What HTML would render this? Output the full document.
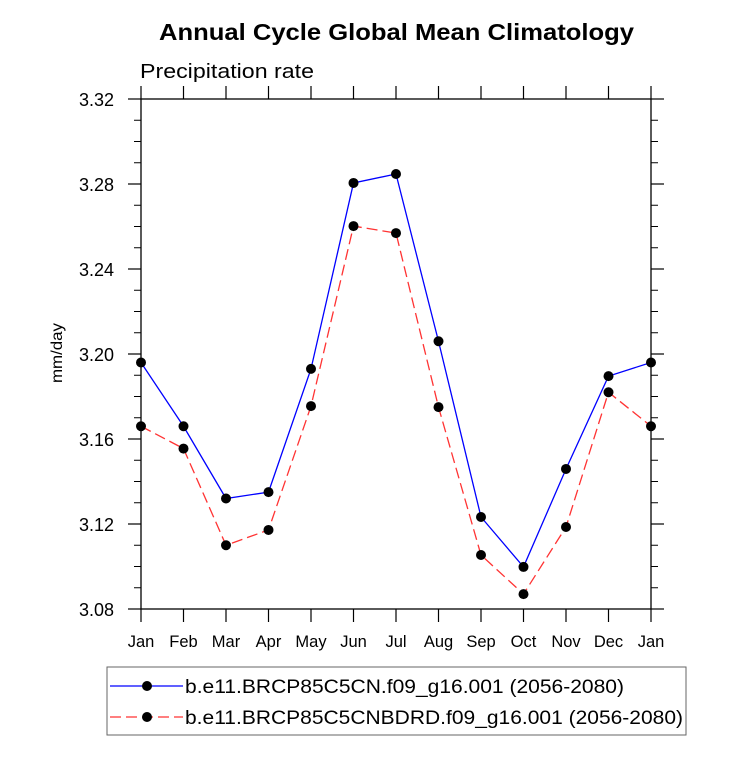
<!DOCTYPE html>
<html><head><meta charset="utf-8"><style>
body{margin:0;background:#fff;}
svg text{font-family:"Liberation Sans",Arial,sans-serif;}
</style></head><body>
<svg id="chart" width="733" height="756" xmlns="http://www.w3.org/2000/svg">
<text x="159" y="40" font-size="23" font-weight="bold" textLength="475" lengthAdjust="spacingAndGlyphs">Annual Cycle Global Mean Climatology</text>
<text x="140" y="78" font-size="20" textLength="174" lengthAdjust="spacingAndGlyphs">Precipitation rate</text>
<text transform="translate(62,353) rotate(-90)" text-anchor="middle" font-size="16" textLength="60" lengthAdjust="spacingAndGlyphs">mm/day</text>
<g id="axes"></g>
<g id="series"></g>
<rect x="107" y="667" width="579" height="68" fill="none" stroke="#666" stroke-width="1"/>
<g>
<line x1="110" y1="686" x2="183" y2="686" stroke="#00f" stroke-width="1.3"/>
<circle cx="147" cy="686" r="5" fill="#000"/>
<text x="185" y="693" font-size="19" textLength="439" lengthAdjust="spacingAndGlyphs">b.e11.BRCP85C5CN.f09_g16.001 (2056-2080)</text>
</g>
<g>
<line x1="110" y1="717" x2="183" y2="717" stroke="#f33" stroke-width="1.3" stroke-dasharray="11,5"/>
<circle cx="147" cy="717" r="5" fill="#000"/>
<text x="185" y="724" font-size="19" textLength="498" lengthAdjust="spacingAndGlyphs">b.e11.BRCP85C5CNBDRD.f09_g16.001 (2056-2080)</text>
</g>
</svg>
<script>
const months=["Jan","Feb","Mar","Apr","May","Jun","Jul","Aug","Sep","Oct","Nov","Dec","Jan"];
const blueValues=[3.196,3.166,3.132,3.135,3.193,3.2805,3.2847,3.206,3.1233,3.0998,3.1459,3.1896,3.196];
const redValues=[3.166,3.1555,3.110,3.1172,3.1755,3.2602,3.2569,3.175,3.1054,3.087,3.1186,3.182,3.166];
const yTicks=[3.08,3.12,3.16,3.20,3.24,3.28,3.32];
const L=141,R=651,T=99,B=609,yMin=3.08,yMax=3.32;
const NS="http://www.w3.org/2000/svg";
const xs=i=>L+(R-L)*i/(months.length-1);
const ys=v=>B-(v-yMin)/(yMax-yMin)*(B-T);
function mk(tag,attrs,parent){const e=document.createElementNS(NS,tag);for(const k in attrs)e.setAttribute(k,attrs[k]);parent.appendChild(e);return e;}
const ax=document.getElementById('axes');
const frame=mk('rect',{x:L,y:T,width:R-L,height:B-T,fill:'none',stroke:'#000','stroke-width':1.3},ax);


yTicks.forEach(v=>{
  const y=ys(v);
  mk('line',{x1:L,y1:y,x2:L-13,y2:y,stroke:'#000','stroke-width':1.2},ax);
  mk('line',{x1:R,y1:y,x2:R+13,y2:y,stroke:'#000','stroke-width':1.2},ax);
  const t=mk('text',{x:114,y:y+7,'text-anchor':'end','font-size':18},ax);
  t.textContent=v.toFixed(2);
  
  
});
for(let v=yMin;v<yMax-1e-9;v+=0.01){
  const y=ys(v);
  mk('line',{x1:L,y1:y,x2:L-7,y2:y,stroke:'#000'},ax);
  mk('line',{x1:R,y1:y,x2:R+7,y2:y,stroke:'#000'},ax);
}
months.forEach((m,i)=>{
  const x=xs(i);
  mk('line',{x1:x,y1:B,x2:x,y2:B+13,stroke:'#000','stroke-width':1.2},ax);
  mk('line',{x1:x,y1:T,x2:x,y2:T-13,stroke:'#000','stroke-width':1.2},ax);
  const t=mk('text',{x:x,y:647,'text-anchor':'middle','font-size':16.5},ax);
  t.textContent=m;
  
  
});
const sg=document.getElementById('series');
function draw(vals,color,dash,name){
  const p=mk('polyline',{points:vals.map((v,i)=>xs(i)+','+ys(v)).join(' '),fill:'none',stroke:color,'stroke-width':1.3,'stroke-dasharray':dash},sg);
  
  
  vals.forEach((v,i)=>{
    const c=mk('circle',{cx:xs(i),cy:ys(v),r:5,fill:'#000'},sg);
    
    
  });
}
draw(blueValues,'#00f','none','blue-series');
draw(redValues,'#f33','11,5','red-series');
</script>
</body></html>
